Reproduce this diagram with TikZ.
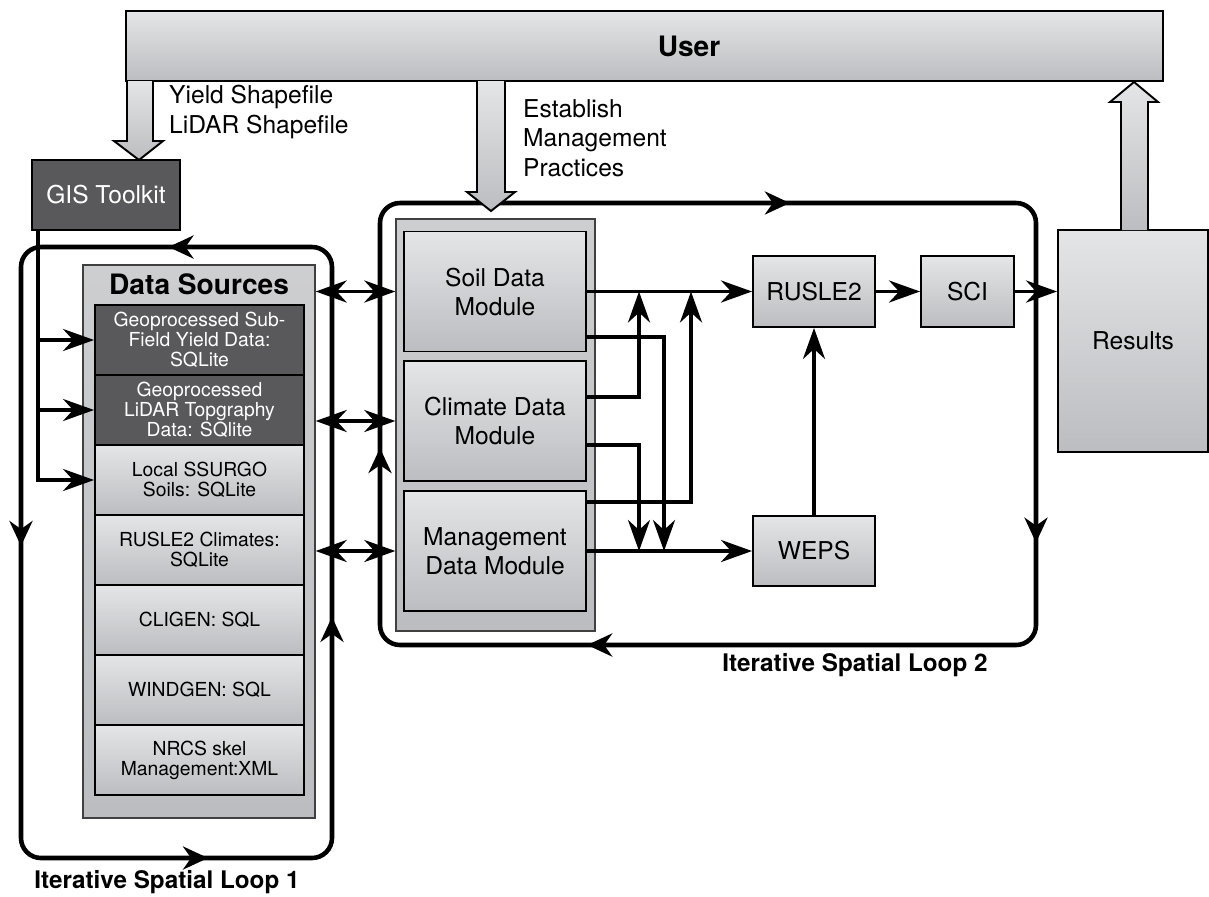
\documentclass[tikz,border=0pt]{standalone}
\usepackage{fontspec}
\setmainfont{TeX Gyre Heros}
\usetikzlibrary{arrows.meta,decorations.markings}

\definecolor{shadetop}{HTML}{E4E5E7}
\definecolor{shadebot}{HTML}{BCBDC0}
\definecolor{darkfill}{HTML}{59595B}

\newcommand{\modfont}{\fontsize{14}{16.5}\selectfont}
\newcommand{\srcfont}{\fontsize{11}{11.4}\selectfont}
\newcommand{\headfont}{\fontsize{16}{18}\selectfont\bfseries}
\newcommand{\loopfont}{\fontsize{13.8}{16}\selectfont\bfseries}

\tikzset{loophead/.tip={Stealth[length=0.5cm,width=0.46cm,inset=0.16cm]}}
\tikzstyle{outlined}=[draw, line width=1.1pt, inner sep=0pt, align=center]
\tikzstyle{box}=[outlined, top color=shadetop, bottom color=shadebot, font=\modfont]
\tikzstyle{holder}=[draw=black!75, line width=0.8pt, inner sep=0pt, top color=shadetop!90!black, bottom color=shadebot]
\tikzstyle{module}=[box, minimum width=3.64cm, minimum height=2.4cm]
\tikzstyle{source}=[box, font=\srcfont, minimum width=4.18cm, minimum height=1.4cm]
\tikzstyle{darksource}=[outlined, fill=darkfill, text=white, font=\srcfont, minimum width=4.18cm, minimum height=1.4cm]
\tikzstyle{wire}=[line width=2.2pt]
\tikzstyle{loopline}=[line width=2.6pt, rounded corners=0.4cm, postaction={decorate}]
\tikzstyle{hollow}=[draw, line width=1.1pt, top color=shadetop, bottom color=shadebot]
\tikzstyle{note}=[font=\fontsize{14}{16.8}\selectfont, align=left, anchor=west]

\begin{document}
\begin{tikzpicture}[x=0.02cm, y=-0.02cm, >={Stealth[length=0.62cm,width=0.44cm,inset=0.2cm]}]
\useasboundingbox (0,0) rectangle (1209,896);

% iterative loops
\draw[loopline, decoration={markings,
    mark=at position 0.034 with {\arrow{loophead}},
    mark=at position 0.276 with {\arrow{loophead}},
    mark=at position 0.547 with {\arrow{loophead}},
    mark=at position 0.744 with {\arrow{loophead}}}]
  (250,247) -- (21,247) -- (21,858) -- (332,858) -- (332,247) -- cycle;
\draw[loopline, decoration={markings,
    mark=at position 0.148 with {\arrow{loophead}},
    mark=at position 0.415 with {\arrow{loophead}},
    mark=at position 0.666 with {\arrow{loophead}},
    mark=at position 0.849 with {\arrow{loophead}}}]
  (450,203) -- (1036,203) -- (1036,645) -- (380,645) -- (380,203) -- cycle;
\node[font=\loopfont] (loopone) at (167,882) {Iterative Spatial Loop 1};
\node[font=\loopfont] (looptwo) at (855,665) {Iterative Spatial Loop 2};

% user and toolkit
\node[box, minimum width=20.74cm, minimum height=1.4cm] (user) at (644.5,46) {};
\node[font=\headfont] (usertext) at (689,46) {User};
\node[darksource, font=\modfont, minimum width=2.96cm] (gis) at (106,195) {GIS Toolkit};
\node[note] (shapes) at (163,112) {Yield Shapefile\\LiDAR Shapefile};
\node[note] (practices) at (517,138) {Establish\\Management\\Practices};

% data sources
\node[holder, minimum width=4.64cm, minimum height=11.06cm] (dsbox) at (199,541.5) {};
\node[font=\headfont] (dstitle) at (199,284) {Data Sources};
\node[darksource] (yield) at (199.5,340) {Geoprocessed Sub-\\Field Yield Data:\\SQLite};
\node[darksource] (lidar) at (199.5,410) {Geoprocessed\\LiDAR Topgraphy\\Data: SQlite};
\node[source] (ssurgo) at (199.5,480) {Local SSURGO\\Soils: SQLite};
\node[source] (climates) at (199.5,550) {RUSLE2 Climates:\\SQLite};
\node[source] (cligen) at (199.5,620) {CLIGEN: SQL};
\node[source] (windgen) at (199.5,690) {WINDGEN: SQL};
\node[source] (nrcs) at (199.5,760) {NRCS skel\\Management:XML};

% modules
\node[holder, minimum width=3.98cm, minimum height=8.24cm] (modbox) at (495.5,425) {};
\node[module] (soil) at (495,291.5) {Soil Data\\Module};
\node[module] (climate) at (495,421) {Climate Data\\Module};
\node[module] (mgmt) at (495,551) {Management\\Data Module};

% models and results
\node[box, minimum width=2.44cm, minimum height=1.42cm] (rusle) at (814,291.5) {RUSLE2};
\node[box, minimum width=1.86cm, minimum height=1.42cm] (sci) at (967.5,291.5) {SCI};
\node[box, minimum width=2.44cm, minimum height=1.4cm] (weps) at (814,551) {WEPS};
\node[box, minimum width=3cm, minimum height=4.44cm] (results) at (1133,341) {Results};

% toolkit to data sources
\coordinate (gisout) at ([xshift=0.14cm]gis.south west);
\draw[wire,->] (gisout) |- (yield.west);
\draw[wire,->] (gisout) |- (lidar.west);
\draw[wire,->] (gisout) |- (ssurgo.west);

% data sources to modules
\draw[wire,<->] (dsbox.east |- soil) -- (modbox.west |- soil);
\draw[wire,<->] (dsbox.east |- climate) -- (modbox.west |- climate);
\draw[wire,<->] (dsbox.east |- mgmt) -- (modbox.west |- mgmt);

% modules to models
\coordinate (up1) at (soil.east -| 639,0);
\coordinate (up2) at (soil.east -| 691,0);
\coordinate (dn1) at (mgmt.east -| 639,0);
\coordinate (dn2) at (mgmt.east -| 664,0);
\draw[wire,->] (soil.east) -- (rusle.west);
\draw[wire,->] ([yshift=-0.91cm]soil.east) -| (dn2);
\draw[wire,->] ([yshift=0.48cm]climate.east) -| (up1);
\draw[wire,->] ([yshift=-0.48cm]climate.east) -| (dn1);
\draw[wire,->] ([yshift=0.98cm]mgmt.east) -| (up2);
\draw[wire,->] (mgmt.east) -- (weps.west);
\draw[wire,->] (weps.north) -- (rusle.south);
\draw[wire,->] (rusle.east) -- (sci.west);
\draw[wire,->] (sci.east) -- (results.west |- sci.east);

% hollow arrows from and to the user
\draw[hollow] (127,81) -- (127,141) -- (114,141) -- (139,160) -- (163,141) -- (153,141) -- (153,81);
\draw[hollow] (477,81) -- (477,192) -- (467,192) -- (491,211) -- (515,192) -- (505,192) -- (505,81);
\draw[hollow] (1121,230) -- (1121,102) -- (1110,102) -- (1134,82) -- (1158,102) -- (1148,102) -- (1148,230);
\end{tikzpicture}
\end{document}
